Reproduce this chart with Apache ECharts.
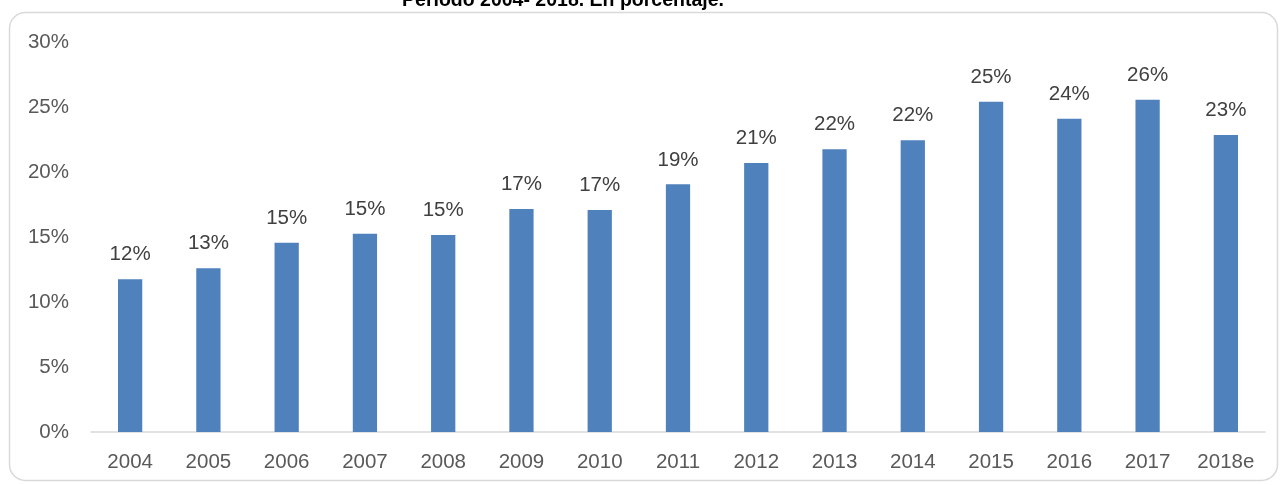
<!DOCTYPE html>
<html>
<head>
<meta charset="utf-8">
<script src="https://cdn.jsdelivr.net/npm/echarts@6/dist/echarts.min.js"></script>
<style>html,body{margin:0;padding:0;background:#fff}#c{width:1281px;height:485px}</style>
</head>
<body>
<div id="c"></div>
<script>
const categories = ['2004','2005','2006','2007','2008','2009','2010','2011','2012','2013','2014','2015','2016','2017','2018e'];
const values = [11.75, 12.6, 14.55, 15.25, 15.15, 17.15, 17.08, 19.05, 20.7, 21.75, 22.45, 25.4, 24.1, 25.55, 22.85];
const yTicks = [0, 5, 10, 15, 20, 25, 30];
const titleText = 'Período 2004- 2018. En porcentaje.';

const chart = echarts.init(document.getElementById('c'), null, {renderer: 'canvas'});
const font = '"Liberation Sans", Arial, sans-serif';
chart.setOption({
  animation: false,
  backgroundColor: '#fff',
  graphic: [
    {type: 'rect', shape: {x: 9.5, y: 12.5, width: 1268, height: 468, r: 16},
     style: {fill: 'none', stroke: '#d9d9d9', lineWidth: 1.5}, z: 0},
    {type: 'text', x: 563, y: 11,
     style: {text: titleText, font: 'bold 19.5px ' + font, fill: '#000', textAlign: 'center', textVerticalAlign: 'bottom'}}
  ],
  grid: {left: 91, right: 16, top: 42, bottom: 53},
  xAxis: {
    type: 'category', data: categories,
    axisLine: {lineStyle: {color: '#d9d9d9', width: 1.5}},
    axisTick: {show: false},
    axisLabel: {color: '#595959', fontSize: 20.5, fontFamily: font, margin: 20}
  },
  yAxis: {
    type: 'value', min: yTicks[0], max: yTicks[yTicks.length - 1], interval: 5,
    splitLine: {show: false},
    axisLine: {show: false}, axisTick: {show: false},
    axisLabel: {color: '#595959', fontSize: 20.5, fontFamily: font, margin: 22, formatter: v => v + '%'}
  },
  series: [{
    type: 'bar', data: values, barWidth: '31%',
    itemStyle: {color: '#4F81BD'},
    label: {show: true, position: 'top', distance: 14, color: '#404040', fontSize: 20.5, fontFamily: font,
      formatter: p => Math.round(p.value) + '%'}
  }]
});
</script>
</body>
</html>
